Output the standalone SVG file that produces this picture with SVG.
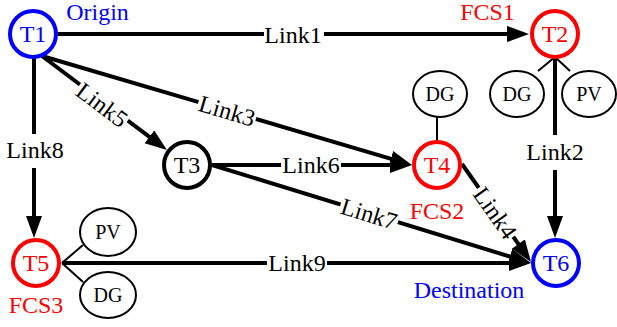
<svg xmlns="http://www.w3.org/2000/svg" width="617" height="327" viewBox="0 0 617 327" font-family="'Liberation Serif', 'Times New Roman', 'DejaVu Serif', serif">
<style>
text{font-family:"Liberation Serif","Times New Roman","DejaVu Serif",serif;}
.lbl{font-size:24px;fill:#000;text-anchor:middle;}
.ntxt{font-size:24px;text-anchor:middle;}
.stxt{font-size:20px;text-anchor:middle;fill:#000;}
.edge{stroke:#000;stroke-width:4;fill:none;}
.thin{stroke:#000;stroke-width:2;fill:none;}
.bg{fill:#fff;stroke:none;}
.blue{stroke:#0000ff;fill:#fff;stroke-width:4;}
.red{stroke:#ff0000;fill:#fff;stroke-width:4;}
.black{stroke:#000;fill:#fff;stroke-width:4;}
.small{stroke:#000;fill:#fff;stroke-width:2;}
.tb{fill:#0000ff;}
.tr{fill:#ff0000;}
.tk{fill:#000;}
</style>
<defs>
<marker id="arr" markerUnits="userSpaceOnUse" markerWidth="24" markerHeight="18" refX="10" refY="8" orient="auto" viewBox="0 0 24 18">
<path d="M0,0 L22,8 L0,16 z" fill="#000"/>
</marker>
</defs>
<g id="connectors">
<line class="edge" x1="58" y1="34" x2="517" y2="34" marker-end="url(#arr)"/>
<line class="edge" x1="34" y1="58" x2="34" y2="226" marker-end="url(#arr)"/>
<line class="edge" x1="42" y1="56" x2="157.4" y2="142.8" marker-end="url(#arr)"/>
<line class="edge" x1="42" y1="56" x2="400.5" y2="161.6" marker-end="url(#arr)"/>
<line class="edge" x1="212" y1="165" x2="400" y2="165" marker-end="url(#arr)"/>
<line class="edge" x1="212" y1="165" x2="519.5" y2="259.5" marker-end="url(#arr)"/>
<line class="edge" x1="462" y1="164" x2="524.1" y2="252.2" marker-end="url(#arr)"/>
<line class="edge" x1="62" y1="263" x2="519" y2="263" marker-end="url(#arr)"/>
<line class="edge" x1="555" y1="58" x2="555" y2="226" marker-end="url(#arr)"/>
<line class="thin" x1="555" y1="57" x2="538" y2="71"/>
<line class="thin" x1="555" y1="57" x2="570" y2="71"/>
<line class="thin" x1="437" y1="117" x2="437" y2="141"/>
<line class="thin" x1="62" y1="263" x2="83" y2="245"/>
<line class="thin" x1="62" y1="263" x2="83" y2="282"/>
<g id="labels">
<rect class="bg" x="264" y="18" width="60" height="32"/>
<text class="lbl" x="293" y="43">Link1</text>
<rect class="bg" x="5" y="134" width="60" height="34"/>
<text class="lbl" x="35" y="158">Link8</text>
<g transform="translate(102,105) rotate(37)"><rect class="bg" x="-30" y="-15" width="60" height="30"/><text class="lbl" x="0" y="8">Link5</text></g>
<g transform="translate(227,111) rotate(16.4)"><rect class="bg" x="-30" y="-15" width="60" height="30"/><text class="lbl" x="0" y="8">Link3</text></g>
<rect class="bg" x="281" y="150" width="60" height="30"/>
<text class="lbl" x="311" y="173">Link6</text>
<g transform="translate(369,214) rotate(17.1)"><rect class="bg" x="-30" y="-15" width="60" height="30"/><text class="lbl" x="0" y="8">Link7</text></g>
<g transform="translate(495,213) rotate(54.8)"><rect class="bg" x="-30" y="-15" width="60" height="30"/><text class="lbl" x="0" y="8">Link4</text></g>
<rect class="bg" x="525" y="135" width="60" height="35"/>
<text class="lbl" x="555" y="160">Link2</text>
<rect class="bg" x="267" y="248" width="60" height="30"/>
<text class="lbl" x="297" y="271">Link9</text>
</g>
</g>
<g id="T1"><circle class="blue" cx="33" cy="34" r="23"/><text class="ntxt tb" x="33" y="42">T1</text></g>
<g id="T2"><circle class="red" cx="555" cy="34" r="23"/><text class="ntxt tr" x="555" y="42">T2</text></g>
<g id="T3"><circle class="black" cx="187" cy="165" r="23"/><text class="ntxt tk" x="187" y="173">T3</text></g>
<g id="T4"><circle class="red" cx="437" cy="165" r="23"/><text class="ntxt tr" x="437" y="173">T4</text></g>
<g id="T5"><circle class="red" cx="36" cy="263" r="23"/><text class="ntxt tr" x="36" y="271">T5</text></g>
<g id="T6"><circle class="blue" cx="556" cy="263" r="23"/><text class="ntxt tb" x="556" y="271">T6</text></g>
<g id="DG_T2"><ellipse class="small" cx="517" cy="94" rx="27" ry="23"/><text class="stxt" x="517" y="101">DG</text></g>
<g id="PV_T2"><ellipse class="small" cx="589" cy="94" rx="27" ry="23"/><text class="stxt" x="589" y="101">PV</text></g>
<g id="DG_T4"><ellipse class="small" cx="440" cy="94" rx="27" ry="23"/><text class="stxt" x="440" y="101">DG</text></g>
<g id="PV_T5"><ellipse class="small" cx="108" cy="232" rx="28" ry="24"/><text class="stxt" x="108" y="239">PV</text></g>
<g id="DG_T5"><ellipse class="small" cx="108" cy="295" rx="28" ry="23"/><text class="stxt" x="108" y="302">DG</text></g>
<g id="annotations">
<text class="ntxt tb" x="97.5" y="20">Origin</text>
<text class="ntxt tr" x="487.5" y="20">FCS1</text>
<text class="ntxt tr" x="437" y="219">FCS2</text>
<text class="ntxt tr" x="36" y="313">FCS3</text>
<text class="ntxt tb" x="469" y="298">Destination</text>
</g>
</svg>
